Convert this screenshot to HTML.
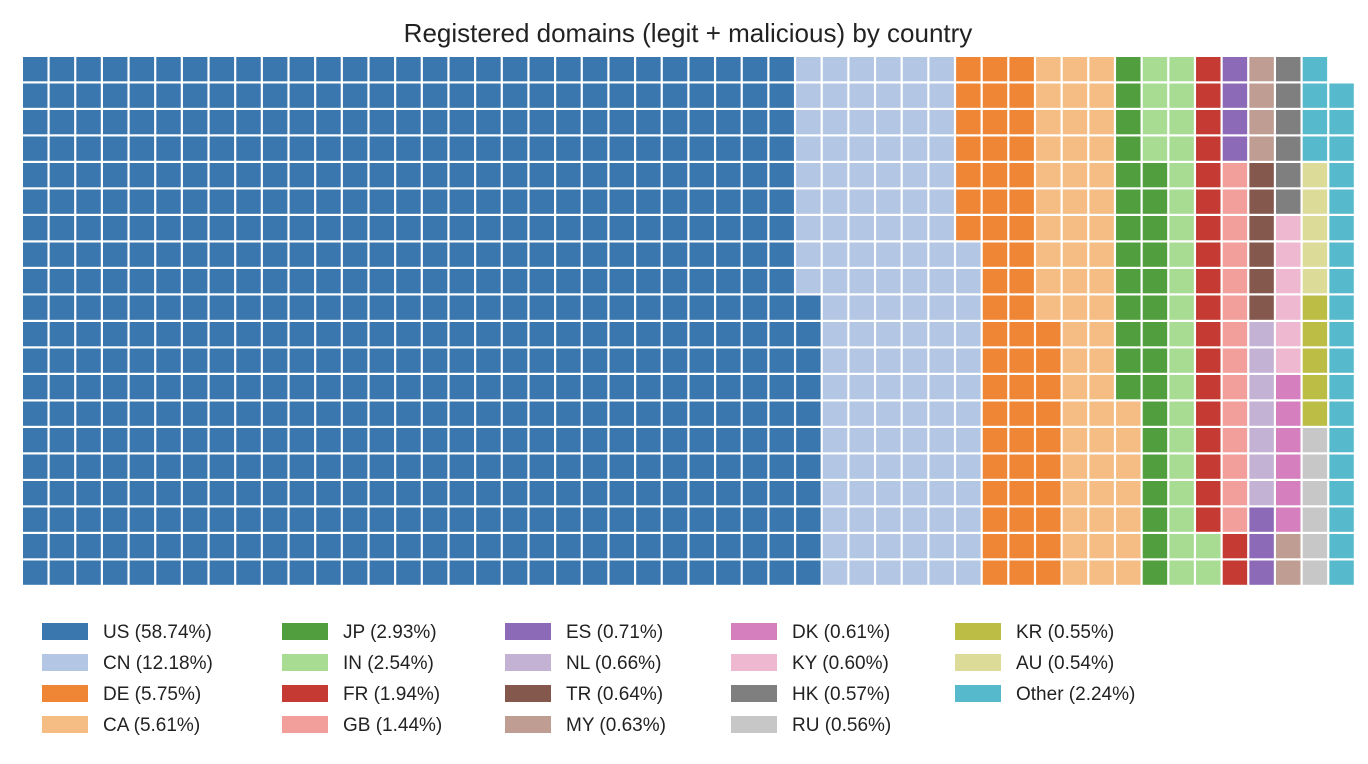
<!DOCTYPE html>
<html><head><meta charset="utf-8"><style>
body{margin:0;background:#fff;}
svg{display:block;font-family:"Liberation Sans","DejaVu Sans",sans-serif;}
</style></head><body>
<svg id="chart" width="1368" height="764" viewBox="0 0 1368 764">
<text x="688" y="42" text-anchor="middle" font-size="26" fill="#222">Registered domains (legit + malicious) by country</text>
<g id="cells"></g>
<g id="legend"></g>
</svg>
<script>
const categories = ["US","CN","DE","CA","JP","IN","FR","GB","ES","NL","TR","MY","DK","KY","HK","RU","KR","AU","Other"];
const percents = [58.74,12.18,5.75,5.61,2.93,2.54,1.94,1.44,0.71,0.66,0.64,0.63,0.61,0.60,0.57,0.56,0.55,0.54,2.24];
const counts = [591,122,57,57,29,26,20,14,7,7,6,6,6,6,6,6,5,5,23];
const colors = ["#3a77af","#b3c6e4","#ef8636","#f5bd84","#519e3e","#a8dc93","#c53a32","#f29e9a","#8d6ab8","#c4b2d4","#85584e","#bf9d93","#d57fbe","#efb8d1","#7f7f7f","#c7c7c7","#bcbd45","#dcdb97","#57bacc"];
const nRows = 20, nCols = 50;
const gx0 = 22, gy0 = 56, px = 26.66, py = 26.5;
const ns = "http://www.w3.org/2000/svg";
const cells = document.getElementById('cells');
function colX(c){return gx0 + c*px;}
function rowY(r){return gy0 + r*py;}
let idx = 0;
counts.forEach((n,k)=>{
  for(let i=0;i<n;i++){
    const c = Math.floor(idx/nRows), r = nRows-1-(idx%nRows);
    const rect = document.createElementNS(ns,'rect');
    
    
    rect.setAttribute('x',colX(c)+1);
    rect.setAttribute('y',rowY(r)+1);
    rect.setAttribute('width',px-2.2);
    rect.setAttribute('height',py-2.2);
    rect.setAttribute('fill',colors[k]);
    cells.appendChild(rect);
    idx++;
  }
});
const legend = document.getElementById('legend');
const lx = [42,282,505,731,955], ly0 = 631, lpy = 31;
categories.forEach((cat,k)=>{
  const col = Math.floor(k/4), row = k%4;
  const g = document.createElementNS(ns,'g');
  
  
  const r = document.createElementNS(ns,'rect');
  r.setAttribute('x',lx[col]); r.setAttribute('y',ly0+row*lpy-8);
  r.setAttribute('width',46); r.setAttribute('height',17);
  r.setAttribute('fill',colors[k]);
  g.appendChild(r);
  const t = document.createElementNS(ns,'text');
  t.setAttribute('x',lx[col]+61); t.setAttribute('y',ly0+row*lpy+7);
  t.setAttribute('font-size','19'); t.setAttribute('fill','#222');
  t.textContent = cat+' ('+percents[k].toFixed(2)+'%)';
  g.appendChild(t);
  legend.appendChild(g);
});
</script>
</body></html>
